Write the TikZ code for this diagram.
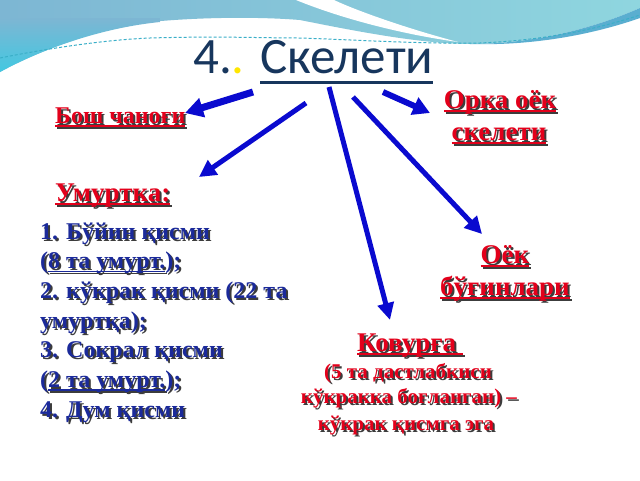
\documentclass[tikz,border=0pt]{standalone}
\usepackage{fontspec}
\setmainfont{Liberation Serif}
\newfontfamily\titlefont{Carlito}
\usetikzlibrary{arrows.meta}
\definecolor{navyc}{HTML}{17365D}
\definecolor{yellowc}{HTML}{FFE600}
\definecolor{redc}{HTML}{E3001B}
\definecolor{bluec}{HTML}{1B2A9A}
\definecolor{arrowc}{HTML}{0A0ACF}
\definecolor{shadowc}{HTML}{3C3C3C}
\definecolor{bandA}{HTML}{7DB6D3}
\definecolor{bandB}{HTML}{8FD6DF}
\definecolor{bandC}{HTML}{42C8E1}
\definecolor{bandD}{HTML}{5AAED0}
\definecolor{dashc}{HTML}{3AAFC8}
% text with a drop shadow
\newcommand\shd[2]{\leavevmode\rlap{\kern2pt\raisebox{-2pt}{\color{shadowc}#2}}{\color{#1}#2}}
% underline crossing the descenders
\newcommand\ulx[1]{\setbox0\hbox{#1}\rlap{\rule[-0.15em]{\wd0}{0.07em}}\box0}
\newcommand\ultitle[1]{\setbox0\hbox{#1}\rlap{\rule[-11pt]{\wd0}{3pt}}\box0}
\tikzset{
  redbig/.style={inner sep=0pt, font=\bfseries\fontsize{27}{32}\selectfont},
  redsmall/.style={inner sep=0pt, font=\bfseries\fontsize{21}{26}\selectfont},
  bluetxt/.style={inner sep=0pt, anchor=base west, font=\bfseries\fontsize{24}{30}\selectfont},
  arr/.style={draw=arrowc, -{Triangle[length=18pt,width=19pt]}},
}
\begin{document}
\begin{tikzpicture}[x=1pt,y=-1pt]
\useasboundingbox (0,0) rectangle (640,480);
\fill[white] (0,0) rectangle (640,480);
% ---- banner ----
\path[left color=bandA, right color=bandB]
  (0,0) -- (640,0) -- (640,8) .. controls (590,30) and (530,44) .. (470,44)
  .. controls (420,44) and (350,30) .. (300,20)
  .. controls (250,16) and (190,18) .. (150,22)
  .. controls (100,28) and (40,50) .. (0,72) -- cycle;
\begin{scope}
  \clip (0,0) -- (160,0) -- (160,22) .. controls (100,28) and (40,50) .. (0,72) -- cycle;
  \path[top color=bandA, bottom color=bandC] (0,18) rectangle (160,72);
\end{scope}
\fill[white] (296,0) .. controls (340,18) and (400,34) .. (458,42)
  .. controls (405,28) and (355,10) .. (334,0) -- cycle;
\fill[bandD] (470,44) .. controls (530,44) and (590,30) .. (640,8) -- (640,18)
  .. controls (600,32) and (540,46) .. (470,44) -- cycle;
\draw[dashc, line width=1pt, dash pattern=on 3pt off 2pt]
  (0,58) .. controls (40,50) and (100,40) .. (150,38)
  .. controls (220,36) and (260,38) .. (300,38)
  .. controls (360,40) and (420,44) .. (480,43)
  .. controls (550,40) and (600,28) .. (640,15);
% ---- title ----
\node[anchor=base west, inner sep=0pt, text=navyc,
  font=\titlefont\fontsize{51}{54}\selectfont] (title) at (193,73)
  {4.{\color{yellowc}.} \ultitle{Скелети}};
% ---- red labels ----
\node[redbig, anchor=base west, font=\bfseries\fontsize{24}{28}\selectfont] (bosh) at (55,123) {\shd{redc}{\ulx{Бош чаноғи}}};
\node[redbig, anchor=base west] (umurt) at (55,201) {\shd{redc}{\ulx{Умуртка:}}};
\node[redbig, anchor=base] (orka1) at (500,108) {\shd{redc}{\ulx{Орка оёк}}};
\node[redbig, anchor=base] (orka2) at (499,140) {\shd{redc}{\ulx{скелети}}};
\node[redbig, anchor=base] (oyok1) at (505,263) {\shd{redc}{\ulx{Оёк}}};
\node[redbig, anchor=base] (oyok2) at (505,295) {\shd{redc}{\ulx{бўғинлари}}};
\node[redbig, anchor=base] (qov) at (410,351) {\shd{redc}{\ulx{Ковурға\ }}};
\node[redsmall, anchor=base] (qov1) at (408,378) {\shd{redc}{(5 та дастлабкиси}};
\node[redsmall, anchor=base] (qov2) at (409,403) {\shd{redc}{кўкракка боғланган) –}};
\node[redsmall, anchor=base] (qov3) at (406,430) {\shd{redc}{кўкрак қисмга эга}};
% ---- blue list ----
\node[bluetxt] (l1) at (40,239) {\shd{bluec}{1. Бўйин қисми}};
\node[bluetxt] (l2) at (40,268.7) {\shd{bluec}{(\ulx{8 та умурт.});}};
\node[bluetxt] (l3) at (40,298.4) {\shd{bluec}{2. кўкрак қисми (22 та}};
\node[bluetxt] (l4) at (40,328.1) {\shd{bluec}{умуртқа);}};
\node[bluetxt] (l5) at (40,357.8) {\shd{bluec}{3. Сокрал қисми}};
\node[bluetxt] (l6) at (40,387.5) {\shd{bluec}{(\ulx{2 та умурт.});}};
\node[bluetxt] (l7) at (40,417.2) {\shd{bluec}{4. Дум қисми}};
% ---- arrows ----
\coordinate (s1) at (253,92);  \coordinate (e1) at (185,113);
\coordinate (s2) at (306,103); \coordinate (e2) at (199,177);
\coordinate (s3) at (329,87);  \coordinate (e3) at (390,320);
\coordinate (s4) at (353,97);  \coordinate (e4) at (482,234);
\coordinate (s5) at (383,92);  \coordinate (e5) at (430,113);
\draw[arr, line width=7pt] (s1) -- (e1);
\draw[arr, line width=5pt, -{Triangle[length=17pt,width=17pt]}] (s2) -- (e2);
\draw[arr, line width=5pt, -{Triangle[length=17pt,width=16pt]}] (s3) -- (e3);
\draw[arr, line width=5pt, -{Triangle[length=17pt,width=17pt]}] (s4) -- (e4);
\draw[arr, line width=6pt, -{Triangle[length=17pt,width=18pt]}] (s5) -- (e5);
\end{tikzpicture}
\end{document}
